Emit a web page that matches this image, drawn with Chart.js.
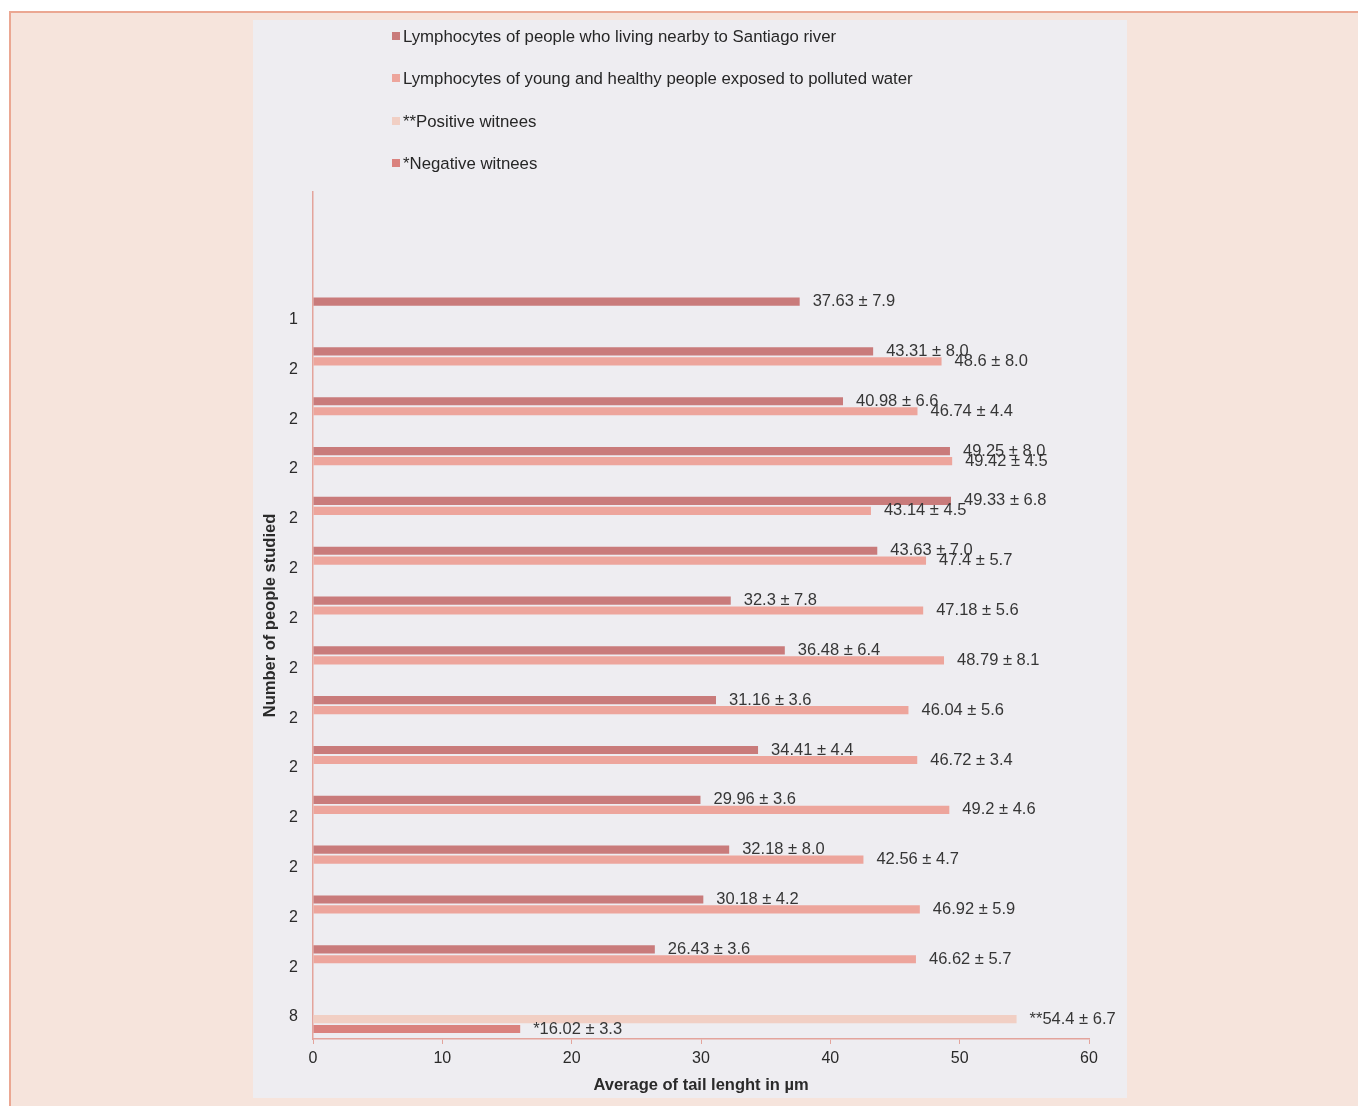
<!DOCTYPE html>
<html>
<head>
<meta charset="utf-8">
<script src="https://cdn.jsdelivr.net/npm/chart.js@4.4.1/dist/chart.umd.min.js"></script>
<style>
	html, body { margin: 0; padding: 0; background: #ffffff; }
	body { width: 1358px; height: 1106px; position: relative; overflow: hidden; font-family: "Liberation Sans", Arial, sans-serif; }
	#page { position: absolute; left: 9px; top: 11px; right: 0; bottom: 0; background: #f6e4dc; border-top: 2px solid #eba792; border-left: 2px solid #eba792; }
	#panel { position: absolute; left: 253px; top: 20px; width: 874px; height: 1078px; background: #eeedf1; }
	#myChart { position: absolute; left: 0; top: 0; }
	#legend { position: absolute; left: 0; top: 0; }
	.lg-item { position: absolute; left: 139px; height: 20px; line-height: 20px; font-size: 16.8px; color: #262626; white-space: nowrap; }
	.lg-box { display: inline-block; width: 8px; height: 8px; margin-right: 3px; vertical-align: 2px; }
</style>
</head>
<body>
<div id="page"></div>
<div id="panel">
	<canvas id="myChart" width="874" height="1078"></canvas>
	<div id="legend"></div>
</div>

<script>
// 카테고리 (위에서 아래로)
const categories = ['1', '2', '2', '2', '2', '2', '2', '2', '2', '2', '2', '2', '2', '2', '8'];

// Lymphocytes of people who living nearby to Santiago river
const riverValues = [37.63, 43.31, 40.98, 49.25, 49.33, 43.63, 32.3, 36.48, 31.16, 34.41, 29.96, 32.18, 30.18, 26.43, null];
const riverSd = [7.9, 8.0, 6.6, 8.0, 6.8, 7.0, 7.8, 6.4, 3.6, 4.4, 3.6, 8.0, 4.2, 3.6, null];

// Lymphocytes of young and healthy people exposed to polluted water
const youngValues = [null, 48.6, 46.74, 49.42, 43.14, 47.4, 47.18, 48.79, 46.04, 46.72, 49.2, 42.56, 46.92, 46.62, null];
const youngSd = [null, 8.0, 4.4, 4.5, 4.5, 5.7, 5.6, 8.1, 5.6, 3.4, 4.6, 4.7, 5.9, 5.7, null];

// witnesses (last row only)
const positiveValues = [null, null, null, null, null, null, null, null, null, null, null, null, null, null, 54.4];
const positiveSd = [null, null, null, null, null, null, null, null, null, null, null, null, null, null, 6.7];
const negativeValues = [null, null, null, null, null, null, null, null, null, null, null, null, null, null, 16.02];
const negativeSd = [null, null, null, null, null, null, null, null, null, null, null, null, null, null, 3.3];

const xTicks = [0, 10, 20, 30, 40, 50, 60];

// 원본 축은 첫 줄 위로 빈 칸 두 개만큼 더 올라가 있음
const emptyTop = 2;
function pad(arr, fill) {
	return Array(emptyTop).fill(fill).concat(arr);
}

const axisColor = '#e3a49c';
const textColor = '#2a2a2a';
const fontFamily = '"Liberation Sans", Arial, sans-serif';

// 막대 끝에 "값 ± sd" 붙이기
const valueLabels = {
	id: 'valueLabels',
	afterDatasetsDraw(chart) {
		const ctx = chart.ctx;
		ctx.save();
		ctx.font = '16.5px ' + fontFamily;
		ctx.fillStyle = '#363636';
		ctx.textAlign = 'left';
		ctx.textBaseline = 'middle';
		chart.data.datasets.forEach(function(ds, i) {
			chart.getDatasetMeta(i).data.forEach(function(bar, j) {
				let v = ds.data[j];
				if (v == null) return;
				let txt = ds.prefix + v + ' \u00b1 ' + ds.sd[j].toFixed(1);
				ctx.fillText(txt, bar.x + 13, bar.y);
			});
		});
		ctx.restore();
	}
};

let ctx = document.getElementById('myChart').getContext('2d');
let myChart = new Chart(ctx, {
	type : 'bar',
	data : {
		labels : pad(categories, ''),
		datasets : [ {
			label : 'Lymphocytes of people who living nearby to Santiago river',
			data : pad(riverValues, null),
			sd : pad(riverSd, null),
			prefix : '',
			backgroundColor : '#c97b7b'
		}, {
			label : 'Lymphocytes of young and healthy people exposed to polluted water',
			data : pad(youngValues, null),
			sd : pad(youngSd, null),
			prefix : '',
			backgroundColor : '#eda59c'
		}, {
			label : '**Positive witnees',
			data : pad(positiveValues, null),
			sd : pad(positiveSd, null),
			prefix : '**',
			backgroundColor : '#f1cfc4'
		}, {
			label : '*Negative witnees',
			data : pad(negativeValues, null),
			sd : pad(negativeSd, null),
			prefix : '*',
			backgroundColor : '#da827e'
		} ]
	},
	options : {
		responsive : false,
		animation : false,
		indexAxis : 'y',
		categoryPercentage : 0.8,
		barPercentage : 0.82,
		layout : { padding : { top : 172, right : 38, left : 0, bottom : 0 } },
		plugins : {
			legend : { display : false },
			tooltip : { enabled : false }
		},
		scales : {
			x : {
				min : 0,
				max : 60,
				afterBuildTicks : function(s) { s.ticks = xTicks.map(v => ({ value : v })); },
				afterFit : function(s) { s.height = 59; },
				grid : { drawOnChartArea : false, drawTicks : true, tickLength : 5, color : axisColor },
				border : { color : axisColor, width : 1.5 },
				ticks : { color : textColor, padding : 5, font : { size : 16, family : fontFamily } },
				title : {
					display : true,
					text : 'Average of tail lenght in \u00b5m',
					color : textColor,
					padding : { top : 0, bottom : 3 },
					font : { size : 16.5, weight : 'bold', family : fontFamily }
				}
			},
			y : {
				afterFit : function(s) { s.width = 60; },
				grid : { display : false, drawTicks : false },
				border : { color : axisColor, width : 1.5 },
				ticks : { color : textColor, padding : 15, labelOffset : 3, font : { size : 16, family : fontFamily } },
				title : {
					display : true,
					text : 'Number of people studied',
					color : textColor,
					padding : { top : 8, bottom : 0 },
					font : { size : 16.5, weight : 'bold', family : fontFamily }
				}
			}
		}
	},
	plugins : [ valueLabels ]
}); // new Chart

// 범례는 세로로 한 줄씩
let legendTops = [17, 59, 102, 144];
let legend = document.getElementById('legend');
myChart.data.datasets.forEach(function(ds, i) {
	let item = document.createElement('div');
	item.className = 'lg-item';
	item.style.top = (legendTops[i] - 10) + 'px';
	let box = document.createElement('span');
	box.className = 'lg-box';
	box.style.background = ds.backgroundColor;
	item.appendChild(box);
	item.appendChild(document.createTextNode(ds.label));
	legend.appendChild(item);
});
</script>
</body>
</html>
